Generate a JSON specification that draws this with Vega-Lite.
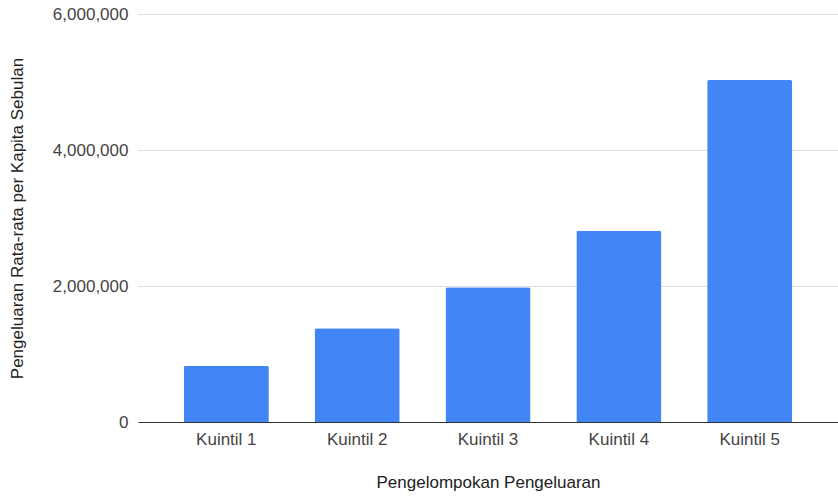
{
  "$schema": "https://vega.github.io/schema/vega-lite/v6.json",
  "width": 700,
  "height": 408,
  "autosize": {"type": "none"},
  "padding": {"left": 138, "top": 14, "right": 0, "bottom": 74},
  "background": "white",
  "data": {
    "values": [
      {"kuintil": "Kuintil 1", "nilai": 828000},
      {"kuintil": "Kuintil 2", "nilai": 1378000},
      {"kuintil": "Kuintil 3", "nilai": 1982000},
      {"kuintil": "Kuintil 4", "nilai": 2813000},
      {"kuintil": "Kuintil 5", "nilai": 5029000}
    ]
  },
  "config": {
    "view": {"stroke": null},
    "font": "Liberation Sans"
  },
  "mark": {"type": "bar", "color": "#4285F4", "cornerRadiusTopLeft": 2, "cornerRadiusTopRight": 2},
  "encoding": {
    "x": {
      "field": "kuintil",
      "type": "nominal",
      "sort": null,
      "scale": {"paddingInner": 0.35, "paddingOuter": 0.35},
      "axis": {
        "title": "Pengelompokan Pengeluaran",
        "labelAngle": 0,
        "labelFontSize": 17,
        "labelColor": "#444444",
        "labelPadding": 9,
        "labelBaseline": "top",
        "ticks": false,
        "domain": true,
        "domainColor": "#333333",
        "domainWidth": 1.2,
        "titleFontSize": 17,
        "titleFontWeight": "normal",
        "titleColor": "#222222",
        "titleBaseline": "alphabetic",
        "titleY": 65,
        "titleX": 350,
        "titleAlign": "center"
      }
    },
    "y": {
      "field": "nilai",
      "type": "quantitative",
      "scale": {"domain": [0, 6000000], "nice": false},
      "axis": {
        "title": "Pengeluaran Rata-rata per Kapita Sebulan",
        "values": [0, 2000000, 4000000, 6000000],
        "format": ",.0f",
        "labelFontSize": 17,
        "labelColor": "#444444",
        "labelPadding": 10,
        "ticks": false,
        "domain": false,
        "grid": true,
        "gridColor": "#dddddd",
        "gridWidth": 1.2,
        "titleFontSize": 17,
        "titleFontWeight": "normal",
        "titleColor": "#222222",
        "titleAngle": 270,
        "titleBaseline": "alphabetic",
        "titleAlign": "center",
        "titleX": -116,
        "titleY": 204
      }
    }
  }
}
